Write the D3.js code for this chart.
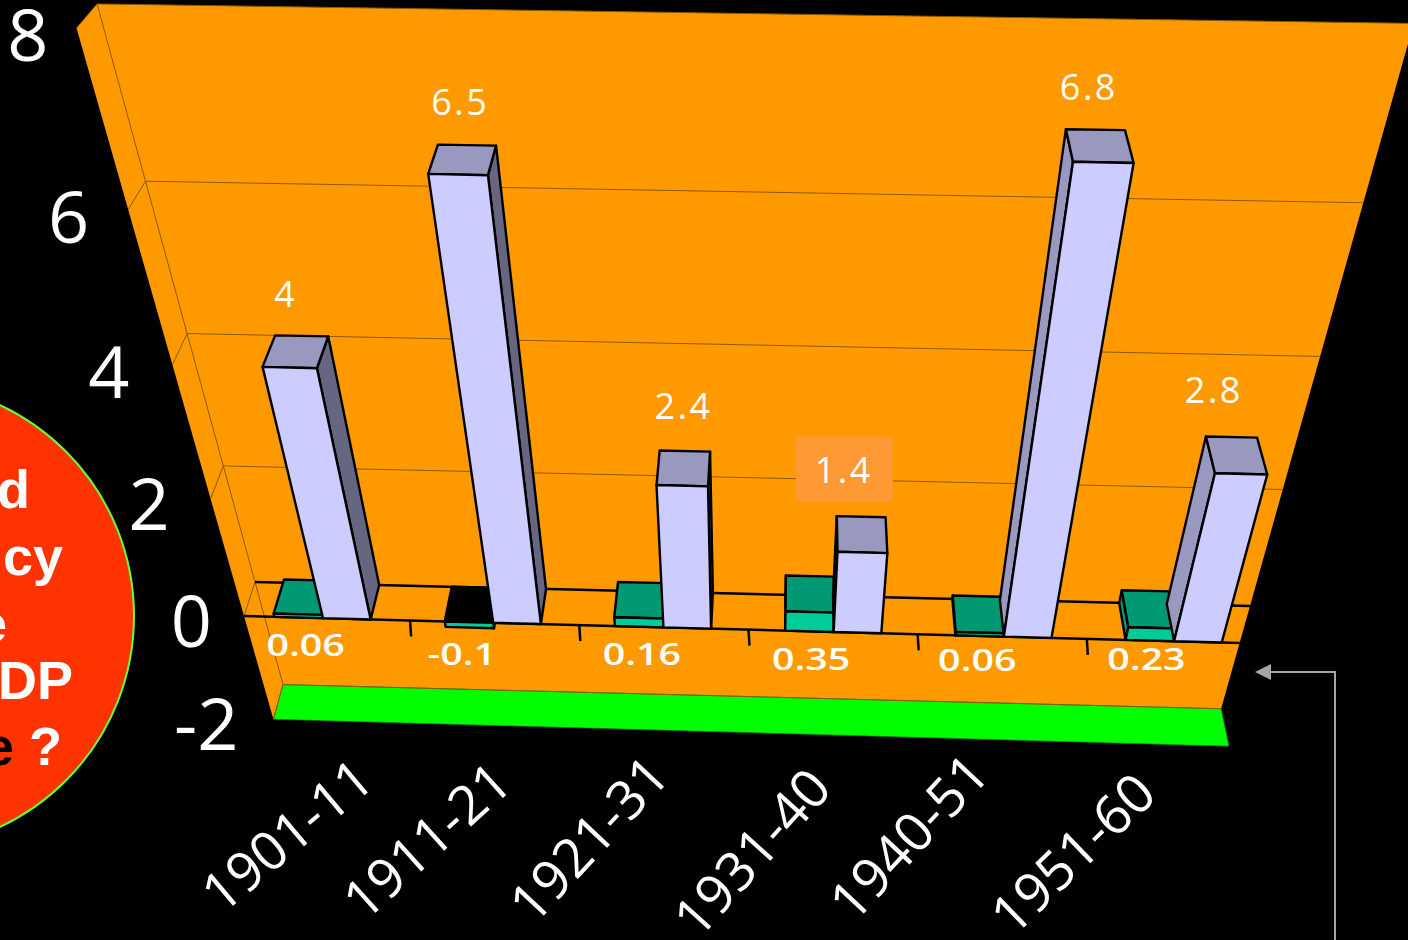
<!DOCTYPE html>
<html><head><meta charset="utf-8">
<script src="https://cdnjs.cloudflare.com/ajax/libs/d3/7.8.5/d3.min.js"></script>
<style>html,body{margin:0;background:#000;overflow:hidden}svg{display:block}</style>
</head><body><svg id="c" width="1408" height="940"></svg>
<script>
const categories = ["1901-11","1911-21","1921-31","1931-40","1940-51","1951-60"];
const shareValues = [4,6.5,2.4,1.4,6.8,2.8];
const shareLabels = ["4","6.5","2.4","1.4","6.8","2.8"];
const growthValues = [0.06,-0.1,0.16,0.35,0.06,0.23];
const growthLabels = ["0.06","-0.1","0.16","0.35","0.06","0.23"];
const valueTicks = [8,6,4,2,0,-2];
const questionLines = ["d","cy","e","DP"];

const FONT = '"Open Sans","Noto Sans",sans-serif';
const svg = d3.select("#c");

const uScale = d3.scaleBand().domain(categories).range([0,1]);
const FL=[244,616],FR=[1259,643.5],BL=[255,582],BR=[1250,606];
const VPx=[738,760],VPy=2350;
const cFL=-0.03165,cFR=-0.0320,cBL=-0.0308,cBR=-0.0313;
function proj(u,v,d){
  const lerp=(a,b,t)=>a+(b-a)*t;
  const fx=lerp(FL[0],FR[0],u),fy=lerp(FL[1],FR[1],u);
  const bx=lerp(BL[0],BR[0],u),by=lerp(BL[1],BR[1],u);
  const x0=lerp(fx,bx,d),y0=lerp(fy,by,d);
  const c=lerp(lerp(cFL,cFR,u),lerp(cBL,cBR,u),d);
  const s=1+c*v, vx=lerp(VPx[0],VPx[1],u);
  return [vx+(x0-vx)/s, VPy+(y0-VPy)/s];
}
const line=d3.line();
const poly=pts=>line(pts)+"Z";
const yMax=d3.max(valueTicks), yMin=d3.min(valueTicks);

const BROWN="#8c5a00", ORANGE="#FF9900", GREENFLOOR="#00FF00";
const gWall=svg.append("g");
gWall.append("path").attr("d",poly([proj(0,yMax,0),proj(0,yMax,1),proj(1,yMax,1),proj(1,yMin,1),proj(0,yMin,1),proj(0,yMin,0)]))
  .attr("fill",ORANGE);
gWall.append("path").attr("d",poly([proj(0,yMin,0),proj(0,yMin,1),proj(1,yMin,1),proj(1,yMin,0)]))
  .attr("fill",GREENFLOOR).attr("stroke","#0a7a00").attr("stroke-width",0.6);
valueTicks.forEach(t=>{
  if(t!==0) gWall.append("path").attr("fill","none").attr("stroke",BROWN).attr("stroke-width",1)
   .attr("d",line([proj(0,t,0),proj(0,t,1),proj(1,t,1)]));
});
gWall.append("path").attr("fill","none").attr("stroke",BROWN).attr("stroke-width",1)
   .attr("d",line([proj(0,yMax,1),proj(0,yMin,1)]));
gWall.append("path").attr("fill","none").attr("stroke",BROWN).attr("stroke-width",1)
   .attr("d",line([proj(0,0,0),proj(0,0,1)]));
gWall.append("path").attr("fill","none").attr("stroke","#000").attr("stroke-width",2.5)
   .attr("d",line([proj(0,0,1),proj(1,0,1)]));
gWall.append("path").attr("fill","none").attr("stroke","#000").attr("stroke-width",2.5)
   .attr("d",line([proj(0,0,0),proj(1,0,0)]));
categories.forEach((c,i)=>{ if(i===0) return;
  const p=proj(uScale(c)-0.003,0,0);
  gWall.append("path").attr("stroke","#000").attr("stroke-width",2.5).attr("d",line([p,[p[0]+1,p[1]+16]]));
});

const growthBand=[0.2,0.485], shareBand=[0.485,0.765];
const STYLE={
 growth:{front:"#00CC99",top:"#009973",left:"#009973",right:"#009973"},
 share:{front:"#CCCCFF",top:"#9999BF",left:"#9999BF",right:"#666680"}
};
const barU=u=>u-0.0035+0.0062*u;
function drawBar(g,i,band,value,style){
  const b=uScale(categories[i]),w=uScale.bandwidth();
  const u0=barU(b+band[0]*w), u1=barU(b+band[1]*w);
  const d0=0,d1=1;
  const hi=Math.max(value,0), lo=Math.min(value,0);
  const faces=[
    {k:"left",pts:[proj(u0,lo,d0),proj(u0,lo,d1),proj(u0,hi,d1),proj(u0,hi,d0)]},
    {k:"right",pts:[proj(u1,lo,d1),proj(u1,lo,d0),proj(u1,hi,d0),proj(u1,hi,d1)]},
    {k:"top",pts:[proj(u0,hi,d0),proj(u0,hi,d1),proj(u1,hi,d1),proj(u1,hi,d0)]},
    {k:"front",pts:[proj(u0,lo,d0),proj(u0,hi,d0),proj(u1,hi,d0),proj(u1,lo,d0)]},
  ];
  faces.forEach(f=>{
    if(d3.polygonArea(f.pts)>=0) return;
    const fill=(f.k==="top"&&value<0)?"#000":style[f.k];
    g.append("path").attr("d",poly(f.pts)).attr("fill",fill).attr("stroke","#000").attr("stroke-width",2.4).attr("stroke-linejoin","round");
  });
}
const gBars=svg.append("g");
categories.forEach((c,i)=>{
  drawBar(gBars,i,growthBand,growthValues[i],STYLE.growth);
  drawBar(gBars,i,shareBand,shareValues[i],STYLE.share);
});

const shareNudge=[[-20,-42],[-10,-43],[-3,-45],[-18,-47],[-6,-43],[-16,-47]];
const growthNudge=[[-23,25],[-36,29],[-25,25],[-25,25],[-28,21],[-28,16]];
const gLab=svg.append("g").attr("font-family",FONT).attr("fill","#fff").attr("text-anchor","middle");
shareValues.forEach((v,i)=>{
  const p=proj(uScale(categories[i])+0.63*uScale.bandwidth(),v,1);
  const x=p[0]+shareNudge[i][0], y=p[1]+shareNudge[i][1];
  if(i===3) gLab.append("rect").attr("x",x-48).attr("y",y-33).attr("width",97).attr("height",65).attr("fill","#FF9933");
  gLab.append("text").attr("x",x).attr("y",y+13).attr("font-size",36).attr("letter-spacing",2.5).text(shareLabels[i]);
});
growthValues.forEach((v,i)=>{
  const p=proj(uScale(categories[i])+0.5*uScale.bandwidth(),0,0);
  gLab.append("text").attr("transform",`translate(${p[0]+growthNudge[i][0]},${p[1]+growthNudge[i][1]+13}) scale(1.27,1)`)
    .attr("font-size",31).attr("font-weight",600).text(growthLabels[i]);
});

const tickDx=[-28,-39,-43,-41,-32,-35], tickDy=[26,26,26,24,24,24];
const gAxis=svg.append("g").attr("font-family",FONT).attr("fill","#fff").attr("text-anchor","end").attr("font-size",72);
valueTicks.forEach((t,i)=>{
  const p=proj(0,t,0);
  gAxis.append("text").attr("x",p[0]+tickDx[i]).attr("y",p[1]+tickDy[i]+7).text(String(t));
});

const catEnd=[[377,785],[515,787],[672,778],[834,790],[992,776],[1159,797]];
const catAngle=[-40,-42,-47,-48,-47,-44];
const gCat=svg.append("g").attr("font-family",FONT).attr("fill","#fff").attr("text-anchor","end").attr("font-size",54);
categories.forEach((c,i)=>{
  gCat.append("text").attr("transform",`translate(${catEnd[i][0]},${catEnd[i][1]}) rotate(${catAngle[i]})`).text(c);
});

svg.append("circle").attr("cx",-99).attr("cy",616).attr("r",233).attr("fill","#FF3300").attr("stroke","#66FF33").attr("stroke-width",2);
const lineX=[30,63,7,73], lineY=[508,575,642,699];
const gQ=svg.append("g").attr("font-family",'"Liberation Sans",Arial,sans-serif').attr("fill","#fff").attr("text-anchor","end").attr("font-size",54).attr("font-weight",700);
questionLines.forEach((t,i)=>{
  gQ.append("text").attr("x",lineX[i]).attr("y",lineY[i]).text(t);
});
const lastLine=gQ.append("text").attr("x",62).attr("y",765);
lastLine.append("tspan").attr("fill","#000").text("e ");
lastLine.append("tspan").attr("fill","#fff").text("?");

const GREY="#A6A6A6";
svg.append("path").attr("fill","none").attr("stroke",GREY).attr("stroke-width",2).attr("d",line([[1335,940],[1335,672],[1268,672]]));
svg.append("path").attr("fill",GREY).attr("d",poly([[1255,672],[1271,664],[1271,680]]));
</script></body></html>
